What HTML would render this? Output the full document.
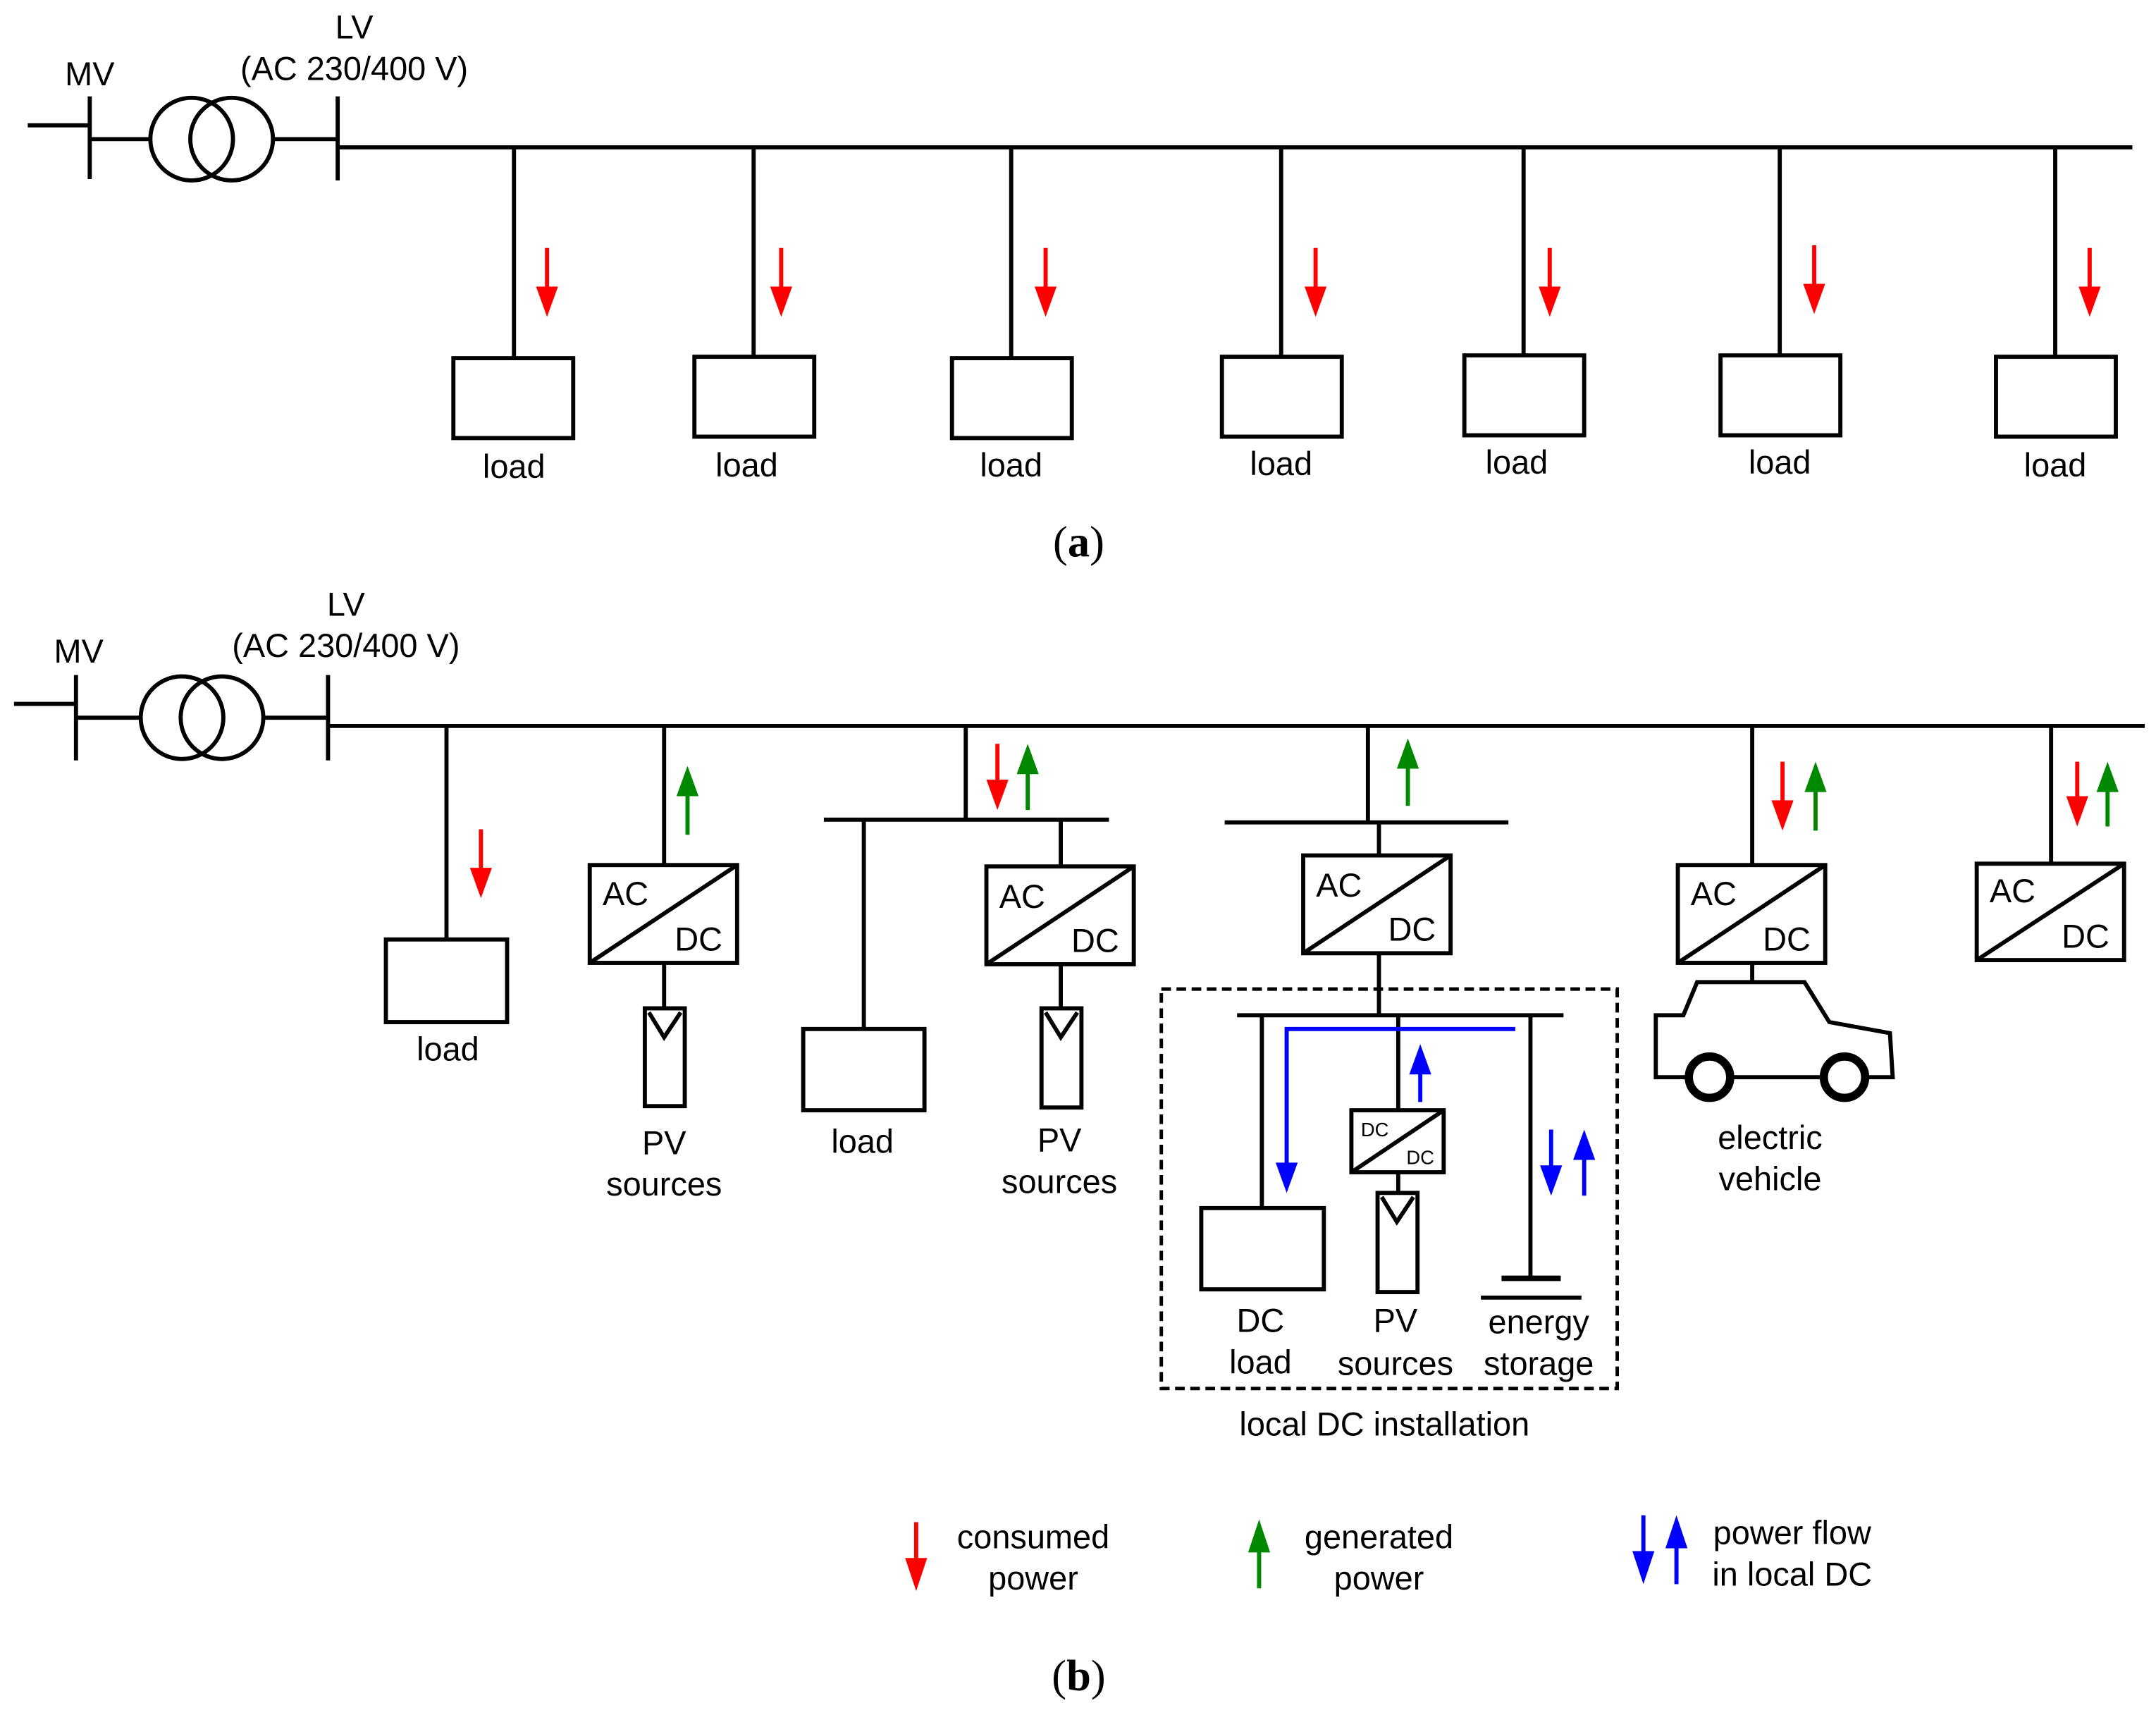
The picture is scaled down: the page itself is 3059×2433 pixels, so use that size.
<!DOCTYPE html>
<html><head><meta charset="utf-8"><style>
html,body{margin:0;padding:0;background:#fff;}
svg{display:block;}
text{font-family:"Liberation Sans",sans-serif;font-size:24px;fill:#000;text-anchor:middle;}
.s{font-family:"Liberation Serif",serif;font-size:32px;}
</style></head><body>
<svg width="3059" height="2433" viewBox="0 0 1565 1245" xmlns="http://www.w3.org/2000/svg">
<g stroke="#000" stroke-width="3" fill="none">
<!-- (a) -->
<line x1="20" y1="91" x2="65" y2="91"/><line x1="65" y1="70" x2="65" y2="130"/>
<line x1="65" y1="101" x2="110" y2="101"/>
<circle cx="139" cy="101" r="30"/><circle cx="168" cy="101" r="30"/>
<line x1="198" y1="101" x2="245" y2="101"/><line x1="245" y1="70" x2="245" y2="131"/>
<line x1="245" y1="107" x2="1548" y2="107"/>
<line x1="373" y1="107" x2="373" y2="260"/><rect x="329" y="260" width="87" height="58"/>
<line x1="547" y1="107" x2="547" y2="259"/><rect x="504" y="259" width="87" height="58"/>
<line x1="734" y1="107" x2="734" y2="260"/><rect x="691" y="260" width="87" height="58"/>
<line x1="930" y1="107" x2="930" y2="259"/><rect x="887" y="259" width="87" height="58"/>
<line x1="1106" y1="107" x2="1106" y2="258"/><rect x="1063" y="258" width="87" height="58"/>
<line x1="1292" y1="107" x2="1292" y2="258"/><rect x="1249" y="258" width="87" height="58"/>
<line x1="1492" y1="107" x2="1492" y2="259"/><rect x="1449" y="259" width="87" height="58"/>
<!-- (b) -->
<line x1="10" y1="511" x2="55" y2="511"/><line x1="55" y1="490" x2="55" y2="552"/>
<line x1="55" y1="521" x2="102" y2="521"/>
<circle cx="132" cy="521" r="30"/><circle cx="161" cy="521" r="30"/>
<line x1="191" y1="521" x2="238" y2="521"/><line x1="238" y1="490" x2="238" y2="552"/>
<line x1="238" y1="527" x2="1557" y2="527"/>
<!-- load1 -->
<line x1="324" y1="527" x2="324" y2="682"/><rect x="280" y="682" width="88" height="60"/>
<!-- PV1 -->
<line x1="482" y1="527" x2="482" y2="628"/>
<rect x="428" y="628" width="107" height="71"/><line x1="428" y1="699" x2="535" y2="628"/>
<line x1="482" y1="699" x2="482" y2="732"/>
<rect x="468" y="732" width="29" height="71"/><polyline points="471,735 482,753 494,735"/>
<!-- group3 -->
<line x1="701" y1="527" x2="701" y2="595"/><line x1="598" y1="595" x2="805" y2="595"/>
<line x1="627" y1="595" x2="627" y2="747"/><rect x="583" y="747" width="88" height="59"/>
<line x1="770" y1="595" x2="770" y2="629"/>
<rect x="716" y="629" width="107" height="71"/><line x1="716" y1="700" x2="823" y2="629"/>
<line x1="770" y1="700" x2="770" y2="732"/>
<rect x="756" y="732" width="29" height="72"/><polyline points="759,735 770,753 782,735"/>
<!-- group4 -->
<line x1="993" y1="527" x2="993" y2="597"/><line x1="889" y1="597" x2="1095" y2="597"/>
<line x1="1001" y1="597" x2="1001" y2="621"/>
<rect x="946" y="621" width="107" height="71"/><line x1="946" y1="692" x2="1053" y2="621"/>
<line x1="1001" y1="692" x2="1001" y2="737"/>
<rect x="843" y="718" width="331" height="290" stroke-width="2.5" stroke-dasharray="7,4"/>
<line x1="898" y1="737" x2="1135" y2="737"/>
<line x1="916" y1="737" x2="916" y2="877"/><rect x="872" y="877" width="89" height="59"/>
<line x1="1015" y1="737" x2="1015" y2="806"/>
<rect x="981" y="806" width="67" height="45"/><line x1="981" y1="851" x2="1048" y2="806"/>
<line x1="1015" y1="851" x2="1015" y2="866"/>
<rect x="1000" y="866" width="29" height="72"/><polyline points="1003,869 1014,887 1026,869"/>
<line x1="1111" y1="737" x2="1111" y2="928"/>
<line x1="1090" y1="928" x2="1133" y2="928" stroke-width="4"/>
<line x1="1075" y1="942" x2="1148" y2="942"/>
<!-- group5 -->
<line x1="1272" y1="527" x2="1272" y2="628"/>
<rect x="1218" y="628" width="107" height="71"/><line x1="1218" y1="699" x2="1325" y2="628"/>
<line x1="1272" y1="699" x2="1272" y2="713"/>
<path d="M1225,782 L1202,782 L1202,737 L1222,737 L1232,713 L1310,713 L1328,742 L1372,750 L1374,782 L1355,782 M1257,782 L1323,782"/>
<circle cx="1241" cy="782" r="15" stroke-width="6"/><circle cx="1339" cy="782" r="15" stroke-width="6"/>
<!-- group6 -->
<line x1="1489" y1="527" x2="1489" y2="627"/>
<rect x="1435" y="627" width="107" height="70"/><line x1="1435" y1="697" x2="1542" y2="627"/>
</g>
<!-- arrows -->
<g stroke-width="3">
<g stroke="#f00" fill="#f00">
<line x1="397" y1="180" x2="397" y2="212"/><polygon points="389,208 405,208 397,230" stroke="none"/>
<line x1="567" y1="180" x2="567" y2="212"/><polygon points="559,208 575,208 567,230" stroke="none"/>
<line x1="759" y1="180" x2="759" y2="212"/><polygon points="751,208 767,208 759,230" stroke="none"/>
<line x1="955" y1="180" x2="955" y2="212"/><polygon points="947,208 963,208 955,230" stroke="none"/>
<line x1="1125" y1="180" x2="1125" y2="212"/><polygon points="1117,208 1133,208 1125,230" stroke="none"/>
<line x1="1317" y1="178" x2="1317" y2="210"/><polygon points="1309,206 1325,206 1317,228" stroke="none"/>
<line x1="1517" y1="180" x2="1517" y2="212"/><polygon points="1509,208 1525,208 1517,230" stroke="none"/>
<line x1="349" y1="602" x2="349" y2="634"/><polygon points="341,630 357,630 349,652" stroke="none"/>
<line x1="724" y1="540" x2="724" y2="570"/><polygon points="716,566 732,566 724,588" stroke="none"/>
<line x1="1294" y1="553" x2="1294" y2="585"/><polygon points="1286,581 1302,581 1294,603" stroke="none"/>
<line x1="1508" y1="553" x2="1508" y2="582"/><polygon points="1500,578 1516,578 1508,600" stroke="none"/>
<line x1="665" y1="1105" x2="665" y2="1135"/><polygon points="657,1131 673,1131 665,1155" stroke="none"/>
</g>
<g stroke="#080" fill="#080">
<line x1="499" y1="606" x2="499" y2="574"/><polygon points="491,578 507,578 499,556" stroke="none"/>
<line x1="746" y1="588" x2="746" y2="558"/><polygon points="738,562 754,562 746,540" stroke="none"/>
<line x1="1022" y1="585" x2="1022" y2="554"/><polygon points="1014,558 1030,558 1022,536" stroke="none"/>
<line x1="1318" y1="603" x2="1318" y2="571"/><polygon points="1310,575 1326,575 1318,553" stroke="none"/>
<line x1="1530" y1="600" x2="1530" y2="571"/><polygon points="1522,575 1538,575 1530,553" stroke="none"/>
<line x1="914" y1="1153" x2="914" y2="1123"/><polygon points="906,1127 922,1127 914,1103" stroke="none"/>
</g>
<g stroke="#00f" fill="#00f">
<polyline points="1100,747 934,747 934,848" fill="none"/><polygon points="926,844 942,844 934,866" stroke="none"/>
<line x1="1031" y1="800" x2="1031" y2="776"/><polygon points="1023,780 1039,780 1031,758" stroke="none"/>
<line x1="1126" y1="820" x2="1126" y2="850"/><polygon points="1118,846 1134,846 1126,868" stroke="none"/>
<line x1="1150" y1="868" x2="1150" y2="838"/><polygon points="1142,842 1158,842 1150,820" stroke="none"/>
<line x1="1193" y1="1100" x2="1193" y2="1130"/><polygon points="1185,1126 1201,1126 1193,1150" stroke="none"/>
<line x1="1217" y1="1150" x2="1217" y2="1120"/><polygon points="1209,1124 1225,1124 1217,1100" stroke="none"/>
</g>
</g>
<!-- text -->
<text x="65" y="62">MV</text><text x="257" y="28">LV</text><text x="257" y="58">(AC 230/400 V)</text>
<text x="373" y="347">load</text><text x="542" y="346">load</text><text x="734" y="346">load</text>
<text x="930" y="345">load</text><text x="1101" y="344">load</text><text x="1292" y="344">load</text><text x="1492" y="346">load</text>
<text class="s" x="783" y="404"><tspan font-weight="normal">(</tspan><tspan font-weight="bold">a</tspan>)</text>
<text x="57" y="481">MV</text><text x="251" y="447">LV</text><text x="251" y="477">(AC 230/400 V)</text>
<text x="325" y="770">load</text>
<text x="454" y="657">AC</text><text x="507" y="690">DC</text>
<text x="482" y="838">PV</text><text x="482" y="868">sources</text>
<text x="626" y="837">load</text>
<text x="742" y="659">AC</text><text x="795" y="691">DC</text>
<text x="769" y="836">PV</text><text x="769" y="866">sources</text>
<text x="972" y="651">AC</text><text x="1025" y="683">DC</text>
<text x="998" y="825" style="font-size:14px">DC</text><text x="1031" y="845" style="font-size:14px">DC</text>
<text x="915" y="967">DC</text><text x="915" y="997">load</text>
<text x="1013" y="967">PV</text><text x="1013" y="998">sources</text>
<text x="1117" y="968">energy</text><text x="1117" y="998">storage</text>
<text x="1005" y="1042">local DC installation</text>
<text x="1244" y="657">AC</text><text x="1297" y="690">DC</text>
<text x="1285" y="834">electric</text><text x="1285" y="864">vehicle</text>
<text x="1461" y="655">AC</text><text x="1514" y="688">DC</text>
<text x="750" y="1124">consumed</text><text x="750" y="1154">power</text>
<text x="1001" y="1124">generated</text><text x="1001" y="1154">power</text>
<text x="1301" y="1121">power flow</text><text x="1301" y="1151">in local DC</text>
<text class="s" x="783" y="1227">(<tspan font-weight="bold">b</tspan>)</text>
</svg>
</body></html>
